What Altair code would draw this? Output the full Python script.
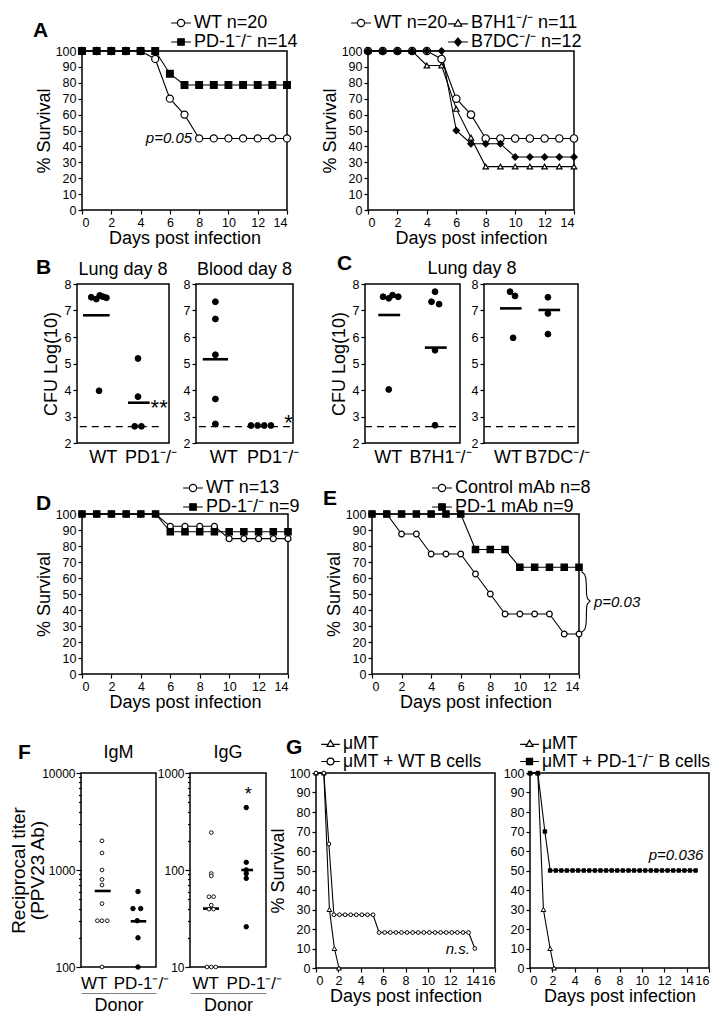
import pandas as pd
import altair as alt

FONT = "Liberation Sans"
SUP = "\u207b/\u207b"

# ---------------- Panel A ----------------
surv_days = [0, 1, 2, 3, 4, 5, 6, 7, 8, 9, 10, 11, 12, 13, 14]
a_wt = [100, 100, 100, 100, 100, 95, 70, 60, 45, 45, 45, 45, 45, 45, 45]
a_pd1 = [100, 100, 100, 100, 100, 100, 85.7, 78.6, 78.6, 78.6, 78.6, 78.6, 78.6, 78.6, 78.6]
a_b7h1 = [100, 100, 100, 100, 90.9, 90.9, 63.6, 45.5, 27.3, 27.3, 27.3, 27.3, 27.3, 27.3, 27.3]
a_b7dc = [100, 100, 100, 100, 100, 100, 50, 41.7, 41.7, 41.7, 33.3, 33.3, 33.3, 33.3, 33.3]
a_left_legend = ["WT n=20", "PD-1" + SUP + " n=14"]
# legend is laid out column by column: [WT, (blank), B7H1, B7DC]
a_right_legend = ["WT n=20", " ", "B7H1" + SUP + " n=11", "B7DC" + SUP + " n=12"]
a_note = ["p=0.05"]
a_note_x = [8]
a_note_y = [45]

# ---------------- Panel B ----------------
lung_wt_x = [0.155, 0.21, 0.247, 0.283, 0.32, 0.24]
lung_wt_y = [7.5, 7.43, 7.57, 7.52, 7.48, 3.97]
lung_ko_x = [0.663, 0.663, 0.627, 0.70]
lung_ko_y = [5.19, 3.75, 2.63, 2.63]
lung_mean_x1 = [0.065, 0.554]
lung_mean_x2 = [0.355, 0.79]
lung_mean_y = [6.82, 3.52]
lung_labels = ["WT", "PD1" + SUP]
lung_label_pos = [0.28, 0.80]
lung_star = ["**"]
lung_star_x = [0.80]
lung_star_y = [3.52]

blood_wt_x = [0.2, 0.2, 0.2, 0.2, 0.2]
blood_wt_y = [7.33, 6.68, 5.33, 3.66, 2.72]
blood_ko_x = [0.567, 0.635, 0.704, 0.773]
blood_ko_y = [2.66, 2.66, 2.66, 2.66]
blood_mean_x1 = [0.07]
blood_mean_x2 = [0.33]
blood_mean_y = [5.16]
blood_labels = ["WT", "PD1" + SUP]
blood_label_pos = [0.28, 0.79]
blood_star = ["*"]
blood_star_x = [0.91]
blood_star_y = [2.95]

detect_limit = 2.62

# ---------------- Panel C ----------------
cl_wt_x = [0.19, 0.25, 0.29, 0.35, 0.25]
cl_wt_y = [7.52, 7.46, 7.58, 7.52, 4.02]
cl_ko_x = [0.737, 0.70, 0.78, 0.737, 0.737]
cl_ko_y = [7.71, 7.33, 7.24, 5.5, 2.67]
cl_mean_x1 = [0.14, 0.63]
cl_mean_x2 = [0.37, 0.86]
cl_mean_y = [6.83, 5.6]
cl_labels = ["WT", "B7H1" + SUP]
cl_label_pos = [0.24, 0.79]

cr_wt_x = [0.277, 0.33, 0.31]
cr_wt_y = [7.71, 7.55, 5.97]
cr_ko_x = [0.68, 0.68, 0.68]
cr_ko_y = [7.5, 6.89, 6.11]
cr_mean_x1 = [0.17, 0.58]
cr_mean_x2 = [0.40, 0.81]
cr_mean_y = [7.08, 7.02]
cr_labels = ["WT", "B7DC" + SUP]
cr_label_pos = [0.25, 0.78]

# ---------------- Panel D ----------------
d_wt = [100, 100, 100, 100, 100, 100, 92.3, 92.3, 92.3, 92.3, 84.6, 84.6, 84.6, 84.6, 84.6]
d_pd1 = [100, 100, 100, 100, 100, 100, 88.9, 88.9, 88.9, 88.9, 88.9, 88.9, 88.9, 88.9, 88.9]
d_legend = ["WT n=13", "PD-1" + SUP + " n=9"]

# ---------------- Panel E ----------------
e_ctrl = [100, 100, 87.5, 87.5, 75, 75, 75, 62.5, 50, 37.5, 37.5, 37.5, 37.5, 25, 25]
e_pd1 = [100, 100, 100, 100, 100, 100, 100, 77.8, 77.8, 77.8, 66.7, 66.7, 66.7, 66.7, 66.7]
e_legend = ["Control mAb n=8", "PD-1 mAb n=9"]
e_note = ["p=0.03"]
e_note_x = [14]
e_note_y = [45]
e_brace_x = [14.15, 14.42, 14.5, 14.5, 14.56, 14.85, 14.56, 14.5, 14.5, 14.42, 14.15]
e_brace_y = [64, 62.5, 58, 49.5, 46.5, 45.5, 44.5, 41.5, 32, 27.5, 26]

# ---------------- Panel F ----------------
igm_wt_x = [0.28, 0.28, 0.28, 0.28, 0.28, 0.28, 0.218, 0.28, 0.35, 0.28]
igm_wt_y = [2000, 1500, 1000, 800, 700, 450, 300, 300, 300, 100]
igm_ko_x = [0.76, 0.693, 0.796, 0.75, 0.76, 0.76]
igm_ko_y = [600, 400, 400, 300, 200, 100]
igm_mean_x1 = [0.183, 0.663]
igm_mean_x2 = [0.396, 0.87]
igm_mean_y = [608, 296]
igm_labels = ["WT", "PD-1" + SUP]
igm_label_pos = [0.17, 0.80]

igg_wt_x = [0.28, 0.28, 0.28, 0.25, 0.31, 0.28, 0.25, 0.31, 0.224, 0.28, 0.338]
igg_wt_y = [243, 92, 87, 53, 53, 43.5, 39.5, 39.5, 10, 10, 10]
igg_ko_x = [0.74, 0.74, 0.74, 0.74, 0.74, 0.74]
igg_ko_y = [440, 120, 100, 92, 82, 26]
igg_mean_x1 = [0.171, 0.675]
igg_mean_x2 = [0.382, 0.83]
igg_mean_y = [40, 100]
igg_labels = ["WT", "PD-1" + SUP]
igg_label_pos = [0.2, 0.84]
igg_star = ["*"]
igg_star_x = [0.72]
igg_star_y = [650]

igm_ticks = [100, 200, 300, 400, 500, 600, 700, 800, 900, 1000, 2000, 3000, 4000, 5000,
             6000, 7000, 8000, 9000, 10000]
igg_ticks = [10, 20, 30, 40, 50, 60, 70, 80, 90, 100, 200, 300, 400, 500, 600, 700, 800, 900, 1000]

# ---------------- Panel G ----------------
gl_mu_x = [0, 0.7, 1.2, 1.65, 2.05]
gl_mu_y = [100, 100, 30, 10, 0]
gl_wt_x = [0, 0.7, 1.15, 1.6, 2.1, 2.6, 3.1, 3.6, 4.1, 4.6, 5.1, 5.64, 6.14, 6.64, 7.14, 7.64,
           8.14, 8.64, 9.14, 9.64, 10.14, 10.64, 11.14, 11.64, 12.14, 12.64, 13.14, 13.64, 14.2]
gl_wt_y = [100, 100, 63.6, 27.3, 27.3, 27.3, 27.3, 27.3, 27.3, 27.3, 27.3, 18.2, 18.2, 18.2,
           18.2, 18.2, 18.2, 18.2, 18.2, 18.2, 18.2, 18.2, 18.2, 18.2, 18.2, 18.2, 18.2, 18.2, 10]
gl_legend = ["\u03bcMT", "\u03bcMT + WT B cells"]
gl_note = ["n.s."]
gl_note_x = [14.2]
gl_note_y = [10]

gr_mu_x = [0, 0.7, 1.2, 1.8, 2.15]
gr_mu_y = [100, 100, 30, 10, 0]
gr_ko_x = [0, 0.7, 1.33, 1.8, 2.3, 2.8, 3.3, 3.8, 4.3, 4.8, 5.3, 5.8, 6.3, 6.8, 7.3, 7.8, 8.3,
           8.8, 9.3, 9.8, 10.3, 10.8, 11.3, 11.8, 12.3, 12.8, 13.3, 13.8, 14.3, 14.8]
gr_ko_y = [100, 100, 70, 50, 50, 50, 50, 50, 50, 50, 50, 50, 50, 50, 50, 50, 50, 50, 50, 50,
           50, 50, 50, 50, 50, 50, 50, 50, 50, 50]
gr_legend = ["\u03bcMT", "\u03bcMT + PD-1" + SUP + " B cells"]
gr_note = ["p=0.036"]
gr_note_x = [15.5]
gr_note_y = [58]

# ---------------- legend symbols (unit-space paths) ----------------
P_CIRCLE = "M-1.1,0H-0.4M0.4,0H1.1M-0.4,0A0.4,0.4,0,1,1,0.4,0A0.4,0.4,0,1,1,-0.4,0Z"
P_SQUARE = "M-1.1,0H-0.36M0.36,0H1.1M-0.36,-0.36H0.36V0.36H-0.36Z"
P_TRI = "M-1.1,0.1H-0.32M0.32,0.1H1.1M0,-0.38L0.42,0.34H-0.42Z"
P_DIAMOND = "M-1.1,0H-0.38M0.38,0H1.1M0,-0.44L0.38,0L0,0.44L-0.38,0Z"
P_BLANK = "M0,0"

PCT_TICKS = [0, 10, 20, 30, 40, 50, 60, 70, 80, 90, 100]
INDEP = dict(shape="independent", fill="independent", stroke="independent")


def legend_layer(names, paths, fills, lx, ly, columns=1, sym=324, fs=18, colpad=0):
    leg = alt.Legend(title=None, orient="none", legendX=lx, legendY=ly, columns=columns,
                     symbolSize=sym, symbolStrokeColor="black", symbolStrokeWidth=1.2,
                     labelFontSize=fs, labelFont=FONT, labelColor="black", labelLimit=0,
                     labelOffset=3, rowPadding=0, columnPadding=colpad, padding=0)
    df = pd.DataFrame({"series": names})
    strokes = ["black" for _ in names]
    return alt.Chart(df).transform_filter("false").mark_point(
        filled=True, opacity=1, strokeWidth=1.2).encode(
        shape=alt.Shape("series:N", scale=alt.Scale(domain=names, range=paths), legend=leg),
        fill=alt.Fill("series:N", scale=alt.Scale(domain=names, range=fills), legend=leg),
        stroke=alt.Stroke("series:N", scale=alt.Scale(domain=names, range=strokes), legend=leg))


def survival(series, xdom, xvals, w, h, ytitle, legend, notes=None, extra=None):
    x = alt.X("day:Q", scale=alt.Scale(domain=xdom, nice=False, zero=False),
              axis=alt.Axis(values=xvals, title="Days post infection", titlePadding=1))
    y = alt.Y("pct:Q", scale=alt.Scale(domain=[0, 100], nice=False),
              axis=alt.Axis(values=PCT_TICKS, title=("% Survival" if ytitle else None)))
    layers = []
    for s in series:
        df = pd.DataFrame({"day": s["x"], "pct": s["y"]})
        layers.append(alt.Chart(df).mark_line(color="black", strokeWidth=1.1).encode(x=x, y=y))
    for s in series:
        df = pd.DataFrame({"day": s["x"], "pct": s["y"]})
        layers.append(alt.Chart(df).mark_point(
            shape=s["shape"], filled=True, fill=s["fill"], stroke="black",
            strokeWidth=s.get("sw", 1.2), size=s["size"], opacity=1).encode(x=x, y=y))
    if extra:
        bx, by = extra
        df = pd.DataFrame({"day": bx, "pct": by, "i": list(range(len(bx)))})
        layers.append(alt.Chart(df).mark_line(color="black", strokeWidth=1.1, interpolate="basis",
                                              clip=False).encode(x=x, y=y, order="i:Q"))
    if notes:
        txt, nx, ny, align, dx = notes
        df = pd.DataFrame({"day": nx, "pct": ny, "t": txt})
        layers.append(alt.Chart(df).mark_text(font=FONT, fontStyle="italic", fontSize=15,
                                              align=align, baseline="middle", dx=dx,
                                              color="black").encode(x=x, y=y, text="t:N"))
    layers.append(legend)
    return alt.layer(*layers).properties(width=w, height=h)


def dotplot(w, h, yscale, yaxis, groups, means, dashed, tick_pos, tick_labels,
            title=None, stars=None, donor=False, xfs=18, xpad=5):
    xs = alt.Scale(domain=[0, 1], nice=False, zero=False)
    mid = (tick_pos[0] + tick_pos[1]) / 2
    lab = "datum.value < %s ? '%s' : '%s'" % (mid, tick_labels[0], tick_labels[1])
    xaxis = alt.Axis(values=tick_pos, labelExpr=lab, ticks=False, domain=False, title=None,
                     labelFontSize=xfs, labelPadding=xpad, labelOverlap=False, labelFlush=False,
                     labelBound=False)
    X_ax = alt.X("x:Q", scale=xs, axis=xaxis)
    X_no = alt.X("x:Q", scale=xs, axis=None)
    Y = alt.Y("y:Q", scale=yscale, axis=yaxis)
    layers = []

    def xenc():
        if donor and layers:
            return X_no
        return X_ax

    if dashed is not None:
        df = pd.DataFrame({"x": [dashed[0]], "x2": [dashed[1]], "y": [dashed[2]]})
        layers.append(alt.Chart(df).mark_rule(color="black", strokeWidth=1.3, strokeDash=[7, 5])
                      .encode(x=xenc(), x2="x2:Q", y=Y))
    mx1, mx2, my = means
    df = pd.DataFrame({"x": mx1, "x2": mx2, "y": my})
    layers.append(alt.Chart(df).mark_rule(color="black", strokeWidth=2.6)
                  .encode(x=xenc(), x2="x2:Q", y=Y))
    first_df = None
    for g in groups:
        df = pd.DataFrame({"x": g["x"], "y": g["y"]})
        if first_df is None:
            first_df = df
        layers.append(alt.Chart(df).mark_point(
            shape="circle", filled=True, fill=g["fill"], stroke="black",
            strokeWidth=g.get("sw", 1), size=g["size"], opacity=1).encode(x=xenc(), y=Y))
    if stars:
        st, sx, sy, fs, dy = stars
        df = pd.DataFrame({"x": sx, "y": sy, "t": st})
        layers.append(alt.Chart(df).mark_text(font=FONT, fontSize=fs, align="left",
                                              baseline="middle", dy=dy, color="black")
                      .encode(x=xenc(), y=Y, text="t:N"))
    if donor:
        dax = alt.Axis(orient="bottom", offset=26, labels=False, ticks=False, domain=True,
                       domainColor="#808080", domainWidth=1.2, title="Donor", titleFontSize=18,
                       titlePadding=3)
        layers.append(alt.Chart(first_df).mark_point(opacity=0)
                      .encode(x=alt.X("x:Q", scale=xs, axis=dax), y=Y))
        ch = alt.layer(*layers).resolve_axis(x="independent")
    else:
        ch = alt.layer(*layers)
    ch = ch.properties(width=w, height=h)
    if title:
        ch = ch.properties(title=title)
    return ch


def spacer(w, h, title=None):
    c = alt.Chart(pd.DataFrame({"s": [""]})).mark_text().encode(text="s:N").properties(
        width=w, height=h, view=alt.ViewBackground(stroke="transparent", fill="transparent"))
    if title is not None:
        c = c.properties(title=title)
    return c


def letter(t, dx, gap):
    return alt.TitleParams(t, anchor="start", dx=dx, offset=gap, dy=20, fontSize=21,
                           fontWeight="bold", baseline="alphabetic", frame="group")


def head(t, gap):
    return alt.TitleParams(t, anchor="middle", offset=gap, dy=17, fontSize=18,
                           baseline="alphabetic")


def row(*charts):
    return alt.hconcat(*charts, spacing=0, bounds="flush").resolve_scale(**INDEP)


xv14 = [0, 2, 4, 6, 8, 10, 12, 14]
xv16 = [0, 2, 4, 6, 8, 10, 12, 14, 16]

# ---- Row 1 : A ----
A_left = survival(
    [dict(x=surv_days, y=a_wt, shape="circle", fill="white", size=50),
     dict(x=surv_days, y=a_pd1, shape="square", fill="black", size=45)],
    [0, 14], xv14, 205, 159, True,
    legend_layer(a_left_legend, [P_CIRCLE, P_SQUARE], ["white", "black"], 89, -38),
    notes=(a_note, a_note_x, a_note_y, "right", -7))
A_right = survival(
    [dict(x=surv_days, y=a_wt, shape="circle", fill="white", size=55),
     dict(x=surv_days, y=a_b7h1, shape="triangle-up", fill="white", size=30),
     dict(x=surv_days, y=a_b7dc, shape="diamond", fill="black", size=40)],
    [0, 14], xv14, 206, 159, True,
    legend_layer(a_right_legend, [P_CIRCLE, P_BLANK, P_TRI, P_DIAMOND],
                 ["white", "white", "white", "black"], -17, -38, columns=2, colpad=-8))

# ---- Row 2 : B, C ----
YB = alt.Scale(domain=[2, 8], nice=False, zero=False)
yb_ax_t = alt.Axis(values=[2, 3, 4, 5, 6, 7, 8], title="CFU Log(10)", titlePadding=4)
yb_ax = alt.Axis(values=[2, 3, 4, 5, 6, 7, 8], title=None)
lung = dotplot(92, 159, YB, yb_ax_t,
               [dict(x=lung_wt_x, y=lung_wt_y, fill="black", size=34),
                dict(x=lung_ko_x, y=lung_ko_y, fill="black", size=34)],
               (lung_mean_x1, lung_mean_x2, lung_mean_y), (0.03, 0.92, detect_limit),
               lung_label_pos, lung_labels, title=head("Lung day 8", 2),
               stars=(lung_star, lung_star_x, lung_star_y, 22, 5))
blood = dotplot(97, 159, YB, yb_ax,
                [dict(x=blood_wt_x, y=blood_wt_y, fill="black", size=34),
                 dict(x=blood_ko_x, y=blood_ko_y, fill="black", size=34)],
                (blood_mean_x1, blood_mean_x2, blood_mean_y), (0.03, 0.97, detect_limit),
                blood_label_pos, blood_labels, title=head("Blood day 8", 2),
                stars=(blood_star, blood_star_x, blood_star_y, 22, 5))
c_left = dotplot(95, 159, YB, yb_ax_t,
                 [dict(x=cl_wt_x, y=cl_wt_y, fill="black", size=34),
                  dict(x=cl_ko_x, y=cl_ko_y, fill="black", size=34)],
                 (cl_mean_x1, cl_mean_x2, cl_mean_y), (0.0, 1.0, detect_limit),
                 cl_label_pos, cl_labels)
c_right = dotplot(94, 159, YB, yb_ax,
                  [dict(x=cr_wt_x, y=cr_wt_y, fill="black", size=34),
                   dict(x=cr_ko_x, y=cr_ko_y, fill="black", size=34)],
                  (cr_mean_x1, cr_mean_x2, cr_mean_y), (0.0, 1.0, detect_limit),
                  cr_label_pos, cr_labels)

# ---- Row 3 : D, E ----
D_chart = survival(
    [dict(x=surv_days, y=d_wt, shape="circle", fill="white", size=36),
     dict(x=surv_days, y=d_pd1, shape="square", fill="black", size=40)],
    [0, 14], xv14, 206, 160, True,
    legend_layer(d_legend, [P_CIRCLE, P_SQUARE], ["white", "black"], 101, -36))
E_chart = survival(
    [dict(x=surv_days, y=e_ctrl, shape="circle", fill="white", size=32),
     dict(x=surv_days, y=e_pd1, shape="square", fill="black", size=40)],
    [0, 14], xv14, 207, 160, True,
    legend_layer(e_legend, [P_CIRCLE, P_SQUARE], ["white", "black"], 60, -36),
    notes=(e_note, e_note_x, e_note_y, "left", 15), extra=(e_brace_x, e_brace_y))

# ---- Row 4 : F, G ----
major_test = "indexof([10, 100, 1000, 10000], datum.value) >= 0"


def log_axis(vals, title):
    kw = dict(values=vals, labelExpr=major_test + " ? format(datum.value, 'd') : ''",
              tickSize={"condition": {"test": major_test, "value": 5}, "value": 2.5},
              labelFontSize=12, labelPadding=1)
    if title:
        kw.update(title=title, titleFontSize=19, titleLineHeight=19, titlePadding=-6)
    else:
        kw.update(title=None)
    return alt.Axis(**kw)


igm = dotplot(75, 194, alt.Scale(type="log", domain=[100, 10000], nice=False),
              log_axis(igm_ticks, ["Reciprocal titer", "(PPV23 Ab)"]),
              [dict(x=igm_wt_x, y=igm_wt_y, fill="white", size=14, sw=0.9),
               dict(x=igm_ko_x, y=igm_ko_y, fill="black", size=20)],
              (igm_mean_x1, igm_mean_x2, igm_mean_y), None,
              igm_label_pos, igm_labels, title=head("IgM", 8), donor=True, xfs=17, xpad=8)
igg = dotplot(76, 194, alt.Scale(type="log", domain=[10, 1000], nice=False),
              log_axis(igg_ticks, None),
              [dict(x=igg_wt_x, y=igg_wt_y, fill="white", size=14, sw=0.9),
               dict(x=igg_ko_x, y=igg_ko_y, fill="black", size=20)],
              (igg_mean_x1, igg_mean_x2, igg_mean_y), None,
              igg_label_pos, igg_labels, title=head("IgG", 8),
              stars=(igg_star, igg_star_x, igg_star_y, 18, 4), donor=True, xfs=17, xpad=8)

G_left = survival(
    [dict(x=gl_mu_x, y=gl_mu_y, shape="triangle-up", fill="white", size=22, sw=1),
     dict(x=gl_wt_x, y=gl_wt_y, shape="circle", fill="white", size=14, sw=1)],
    [0, 16], xv16, 179, 195, True,
    legend_layer(gl_legend, [P_TRI, P_CIRCLE], ["white", "white"], 5, -39, sym=289, fs=17.5),
    notes=(gl_note, gl_note_x, gl_note_y, "right", -5))
G_right = survival(
    [dict(x=gr_mu_x, y=gr_mu_y, shape="triangle-up", fill="white", size=22, sw=1),
     dict(x=gr_ko_x, y=gr_ko_y, shape="square", fill="black", size=12, sw=1)],
    [0, 16], xv16, 179, 195, False,
    legend_layer(gr_legend, [P_TRI, P_SQUARE], ["white", "black"], -10, -39, sym=289, fs=17.5),
    notes=(gr_note, gr_note_x, gr_note_y, "right", 0))

row1 = row(spacer(71, 200, letter("A", 22, 13)), A_left, spacer(81, 1), A_right)
row2 = row(spacer(66, 192, letter("B", 25, 9)), lung, spacer(27, 1), blood,
           spacer(72, 1, letter("C", 44, 8)), c_left, spacer(24, 1, head("Lung day 8", 4)),
           c_right)
row3 = row(spacer(71, 218, letter("D", 25, 3)), D_chart, spacer(84, 1, letter("E", 35, 3)),
           E_chart)
row4 = row(spacer(70, 195, letter("F", 7, 13)), igm, spacer(34, 1), igg,
           spacer(50, 1, letter("G", 20, 13)), G_left, spacer(35, 1), G_right)

chart = alt.vconcat(row1, row2, row3, row4, spacing=0).resolve_scale(**INDEP).properties(
    padding={"left": 0, "top": 4, "right": 0, "bottom": 0}
).configure(font=FONT).configure_view(
    stroke="black", strokeWidth=1.5
).configure_axis(
    grid=False, domain=False, labelFont=FONT, labelFontSize=12.5, labelColor="black",
    titleFont=FONT, titleFontSize=18, titleFontWeight="normal", titleColor="black",
    tickColor="black", tickSize=4, tickWidth=1.2, labelPadding=2, titlePadding=2
).configure_title(font=FONT, fontSize=18, fontWeight="normal", color="black")

chart.save("out.html", embed_options={"renderer": "svg", "actions": False})
